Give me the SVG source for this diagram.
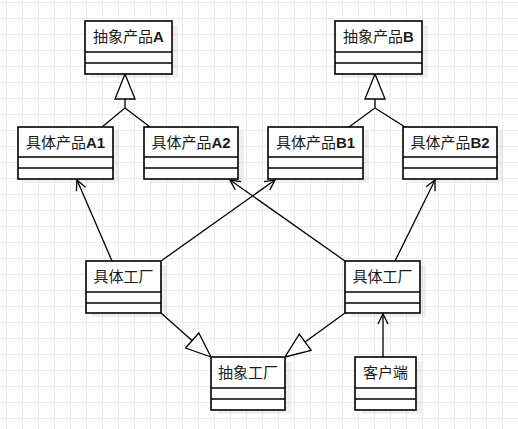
<svg xmlns="http://www.w3.org/2000/svg" width="518" height="429" viewBox="0 0 518 429">
<style>
.box{fill:#fff;stroke:#000;stroke-width:1.6}
.sh{fill:#000;opacity:0.06}
.sep{stroke:#000;stroke-width:1.6}
.lbl{font-family:"Liberation Sans","Noto Sans CJK SC",sans-serif;font-size:15px;text-anchor:middle;fill:#1a1a1a}
.b{font-weight:bold}
.edge{fill:none;stroke:#000;stroke-width:1.3}
.tri{fill:#fff;stroke:#000;stroke-width:1.3}
</style>
<defs>
<pattern id="grid" patternUnits="userSpaceOnUse" x="6" y="2" width="16" height="16">
<rect x="0" y="0" width="1" height="16" fill="#ebebeb"/>
<rect x="0" y="0" width="16" height="1" fill="#ebebeb"/>
</pattern>
<marker id="open" markerUnits="userSpaceOnUse" markerWidth="14" markerHeight="14" viewBox="0 0 14 14" refX="12" refY="7" orient="auto">
<path d="M2,2 L12,7 L2,12" fill="none" stroke="#000" stroke-width="1.3"/>
</marker>
</defs>
<rect width="518" height="429" fill="#fff"/>
<rect width="518" height="429" fill="url(#grid)"/>

<g id="connectors">
<path class="edge" d="M125,99 V108 L102,127 M125,108 L150,127"/>
<polygon class="tri" points="125,74 115,99 135,99"/>
<path class="edge" d="M375,99 V108 L349,127 M375,108 L405,127"/>
<polygon class="tri" points="375,74 365,99 385,99"/>
<line class="edge" x1="112" y1="261" x2="77" y2="180" marker-end="url(#open)"/>
<line class="edge" x1="161" y1="261" x2="275" y2="180" marker-end="url(#open)"/>
<line class="edge" x1="345" y1="261" x2="230" y2="180" marker-end="url(#open)"/>
<line class="edge" x1="395" y1="261" x2="435" y2="180" marker-end="url(#open)"/>
<line class="edge" x1="383" y1="357" x2="383" y2="314" marker-end="url(#open)"/>
<line class="edge" x1="161" y1="313" x2="192" y2="340.5"/>
<polygon class="tri" points="211,357 185.6,348 198.8,333"/>
<line class="edge" x1="345" y1="313" x2="305" y2="342"/>
<polygon class="tri" points="285,357 311.1,350.3 299.3,334.1"/>
</g>

<g id="absA">
<rect class="sh" x="91" y="25" width="87" height="53"/>
<rect class="box" x="85" y="21" width="87" height="53"/>
<line class="sep" x1="85" y1="52" x2="172" y2="52"/><line class="sep" x1="85" y1="63" x2="172" y2="63"/>
<text class="lbl" x="128.5" y="42">抽象产品<tspan class="b">A</tspan></text>
</g>
<g id="absB">
<rect class="sh" x="341" y="25" width="87" height="53"/>
<rect class="box" x="335" y="21" width="87" height="53"/>
<line class="sep" x1="335" y1="52" x2="422" y2="52"/><line class="sep" x1="335" y1="63" x2="422" y2="63"/>
<text class="lbl" x="378.5" y="42">抽象产品<tspan class="b">B</tspan></text>
</g>
<g id="A1">
<rect class="sh" x="24" y="131" width="95" height="52"/>
<rect class="box" x="18" y="127" width="95" height="52"/>
<line class="sep" x1="18" y1="157" x2="113" y2="157"/><line class="sep" x1="18" y1="168" x2="113" y2="168"/>
<text class="lbl" x="65.5" y="148">具体产品<tspan class="b">A1</tspan></text>
</g>
<g id="A2">
<rect class="sh" x="150" y="131" width="94" height="52"/>
<rect class="box" x="144" y="127" width="94" height="52"/>
<line class="sep" x1="144" y1="157" x2="238" y2="157"/><line class="sep" x1="144" y1="168" x2="238" y2="168"/>
<text class="lbl" x="191" y="148">具体产品<tspan class="b">A2</tspan></text>
</g>
<g id="B1">
<rect class="sh" x="274" y="131" width="95" height="52"/>
<rect class="box" x="268" y="127" width="95" height="52"/>
<line class="sep" x1="268" y1="157" x2="363" y2="157"/><line class="sep" x1="268" y1="168" x2="363" y2="168"/>
<text class="lbl" x="315.5" y="148">具体产品<tspan class="b">B1</tspan></text>
</g>
<g id="B2">
<rect class="sh" x="409" y="131" width="94" height="52"/>
<rect class="box" x="403" y="127" width="94" height="52"/>
<line class="sep" x1="403" y1="157" x2="497" y2="157"/><line class="sep" x1="403" y1="168" x2="497" y2="168"/>
<text class="lbl" x="450" y="148">具体产品<tspan class="b">B2</tspan></text>
</g>
<g id="F1">
<rect class="sh" x="92" y="265" width="75" height="52"/>
<rect class="box" x="86" y="261" width="75" height="52"/>
<line class="sep" x1="86" y1="292" x2="161" y2="292"/><line class="sep" x1="86" y1="303" x2="161" y2="303"/>
<text class="lbl" x="123.5" y="282">具体工厂</text>
</g>
<g id="F2">
<rect class="sh" x="351" y="265" width="75" height="52"/>
<rect class="box" x="345" y="261" width="75" height="52"/>
<line class="sep" x1="345" y1="292" x2="420" y2="292"/><line class="sep" x1="345" y1="303" x2="420" y2="303"/>
<text class="lbl" x="382.5" y="282">具体工厂</text>
</g>
<g id="absF">
<rect class="sh" x="217" y="361" width="74" height="53"/>
<rect class="box" x="211" y="357" width="74" height="53"/>
<line class="sep" x1="211" y1="388" x2="285" y2="388"/><line class="sep" x1="211" y1="399" x2="285" y2="399"/>
<text class="lbl" x="248" y="378">抽象工厂</text>
</g>
<g id="client">
<rect class="sh" x="361" y="361" width="61" height="53"/>
<rect class="box" x="355" y="357" width="61" height="53"/>
<line class="sep" x1="355" y1="388" x2="416" y2="388"/><line class="sep" x1="355" y1="399" x2="416" y2="399"/>
<text class="lbl" x="385.5" y="378">客户端</text>
</g>
</svg>
